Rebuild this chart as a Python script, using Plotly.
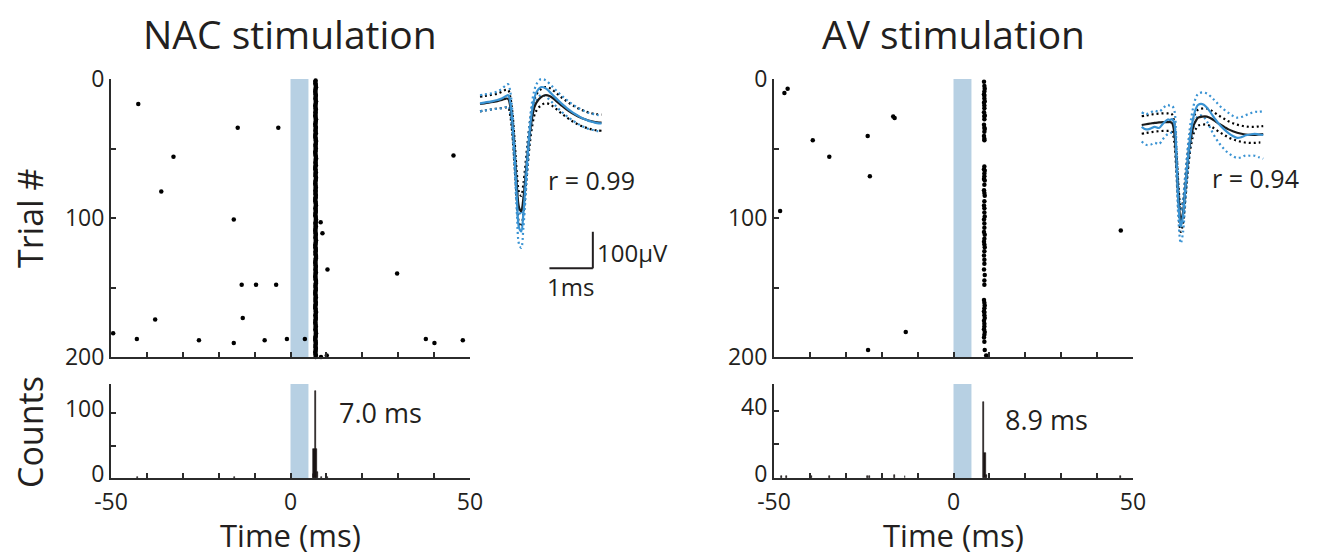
import plotly.graph_objects as go

# ---------------- data ----------------
tick_vals_x = [-50, -40, -30, -20, -10, 0, 10, 20, 30, 40, 50]
tick_text_x = ["-50", "", "", "", "", "0", "", "", "", "", "50"]
raster_ticks = [0, 50, 100, 150, 200]
raster_ticktext = ["0", "", "100", "", "200"]
stim_on, stim_off = 0, 5

# NAC: evoked spike latency (ms) for trials 1..200
nac_col_lat = [
    7.0, 6.9, 6.95, 7.0, 7.05, 7.1, 7.0, 6.95, 6.9, 6.95, 7.0, 7.05, 7.0, 6.95, 7.0, 7.1, 7.05, 7.0, 6.9, 6.95,
    7.0, 7.05, 7.0, 6.95, 7.0, 6.9, 6.95, 7.0, 7.1, 7.05, 7.0, 6.95, 6.9, 7.0, 7.05, 7.0, 6.95, 7.0, 7.05, 6.95,
    6.9, 6.95, 7.0, 7.05, 7.1, 7.05, 7.0, 6.95, 7.0, 7.05, 7.0, 6.95, 6.9, 6.95, 7.0, 7.05, 7.1, 7.05, 7.0, 6.95,
    7.0, 7.05, 6.95, 6.9, 6.95, 7.0, 7.05, 7.0, 6.95, 7.0, 7.1, 7.05, 7.0, 6.95, 6.9, 6.95, 7.0, 7.05, 7.0, 6.95,
    7.0, 6.95, 7.0, 7.05, 7.0, 6.95, 6.9, 6.95, 7.0, 7.05, 7.1, 7.0, 6.95, 7.0, 7.05, 7.0, 6.95, 6.9, 7.0, 7.05,
    7.1, 7.05, 7.0, 6.95, 7.0, 7.05, 7.0, 6.95, 6.9, 6.95, 7.0, 7.05, 7.0, 6.95, 7.0, 7.1, 7.05, 7.0, 6.95, 6.9,
    6.95, 7.0, 7.05, 7.0, 6.95, 7.0, 7.05, 7.1, 7.05, 7.0, 6.95, 6.9, 6.95, 7.0, 7.05, 7.0, 6.95, 7.0, 7.05, 7.0,
    6.95, 6.9, 6.95, 7.0, 7.05, 7.1, 7.05, 7.0, 6.95, 7.0, 7.05, 7.0, 6.95, 6.9, 6.95, 7.0, 7.05, 7.0, 6.95, 7.0,
    7.05, 7.0, 6.95, 6.9, 6.95, 7.0, 7.05, 7.1, 7.0, 6.95, 7.0, 7.05, 7.0, 6.95, 6.9, 6.95, 7.0, 7.05, 7.0, 6.95,
    7.0, 7.05, 7.1, 7.05, 7.0, 6.95, 6.9, 6.95, 7.0, 7.05, 7.0, 6.95, 7.0, 7.05, 7.0, 6.95, 6.9, 7.0, 7.05, 7.0,
]
nac_col_trials = list(range(1, 201))
# NAC: other (spontaneous) spikes
nac_spont_t = [-42.4, -14.7, -3.4, -32.6, 45.4, -36.0, -15.8, 8.4, 8.9, 10.3, 29.7, -13.6, -9.6, -4.0,
               -37.7, -13.3, -49.4, -42.8, -25.5, -15.8, -7.2, -1.0, 4.0, 37.7, 40.1, 48.0, 10.1, 8.5]
nac_spont_trial = [18, 35, 35, 56, 55, 81, 101, 103, 111, 137, 140, 148, 148, 148,
                   173, 172, 183, 187, 188, 190, 188, 187, 187, 187, 190, 188, 199, 200]
nac_hist_t = [-42.5, -15.5, 6.4, 6.8, 7.05, 7.4, 8.7, 10.2, 40.0]
nac_hist_n = [1, 1, 6, 45, 134, 10, 1, 1, 1]
nac_hist_w = [0.25, 0.25, 0.3, 0.9, 0.35, 0.3, 0.25, 0.25, 0.25]

# AV: evoked spikes
av_col_trials = [2, 5, 7, 9, 11, 12, 14, 16, 17, 19, 21, 24, 26, 27, 29, 33, 35, 36, 38, 41, 43, 44,
                 63, 65, 66, 68, 70, 72, 73, 76, 80, 82, 84, 88, 91, 93, 96, 99, 101, 104, 107, 110, 112,
                 115, 117, 119, 121, 124, 127, 130, 133, 137, 141, 145, 148,
                 159, 161, 163, 165, 167, 168, 170, 172, 174, 176, 178, 180, 182, 184, 186, 189, 195]
av_col_lat = [8.5, 8.6, 8.7, 8.6, 8.5, 8.6, 8.6, 8.7, 8.5, 8.6, 8.6, 8.5, 8.7, 8.6, 8.6, 8.5, 8.6, 8.7, 8.6, 8.5, 8.6, 8.6,
              8.6, 8.5, 8.7, 8.6, 8.6, 8.5, 8.7, 8.6, 8.5, 8.6, 8.7, 8.6, 8.5, 8.6, 8.6, 8.7, 8.5, 8.6, 8.6, 8.5, 8.7,
              8.6, 8.5, 8.6, 8.7, 8.6, 8.5, 8.6, 8.6, 8.5, 8.7, 8.6, 8.6,
              8.5, 8.6, 8.7, 8.6, 8.5, 8.6, 8.6, 8.7, 8.5, 8.6, 8.6, 8.5, 8.7, 8.6, 8.5, 8.6, 8.7]
av_spont_t = [-46.2, -47.1, -39.2, -34.6, -23.9, -23.3, -16.8, -16.4, -48.3, -13.3, -23.8, 46.6, 9.1]
av_spont_trial = [7, 10, 44, 56, 41, 70, 27, 28, 95, 182, 195, 109, 199]
av_hist_t = [-48.0, -46.5, -39.5, -34.5, -24.0, -23.3, -16.5, -13.5, 8.45, 8.8, 9.2, 46.5]
av_hist_n = [1, 1, 1, 1, 1, 1, 2, 1, 45, 15, 2, 1]
av_hist_w = [0.25, 0.25, 0.25, 0.25, 0.25, 0.25, 0.25, 0.25, 0.3, 0.5, 0.3, 0.25]

# waveforms (ms, uV): black = spontaneous, blue = evoked
wave_t = [0.0, 0.1, 0.2, 0.3, 0.4, 0.5, 0.6, 0.65, 0.7, 0.75, 0.8, 0.85, 0.9, 0.95, 1.0, 1.05, 1.1, 1.15,
          1.2, 1.25, 1.3, 1.4, 1.5, 1.6, 1.7, 1.8, 1.9, 2.0, 2.1, 2.2, 2.3, 2.4, 2.5, 2.6, 2.7, 2.8]
nac_blue = [0, 2, 4, 6, 9, 13, 20, 22, 0, -60, -150, -260, -340, -350, -300, -220, -140, -70,
            -20, 12, 30, 44, 42, 32, 20, 8, -3, -13, -22, -30, -37, -43, -48, -51, -54, -55]
nac_black = [-2, 0, 2, 4, 6, 9, 13, 12, -10, -60, -140, -230, -285, -295, -260, -200, -135, -80,
             -40, -12, 2, 16, 22, 20, 12, 2, -8, -17, -25, -32, -38, -43, -47, -50, -52, -53]
nac_blue_sd = [22, 22, 22, 22, 24, 26, 30, 30, 30, 32, 36, 40, 45, 45, 40, 35, 30, 26,
               24, 22, 22, 22, 22, 22, 22, 22, 22, 22, 22, 22, 22, 22, 22, 22, 22, 22]
nac_black_sd = [20, 20, 20, 20, 20, 22, 24, 24, 26, 30, 34, 38, 42, 42, 40, 36, 32, 28,
                24, 22, 22, 22, 22, 22, 22, 22, 22, 22, 22, 22, 22, 22, 22, 22, 22, 22]
av_blue = [-5, -12, -10, -5, -8, 5, 15, 14, 16, 5, -90, -220, -278, -250, -180, -110, -50, -5,
           25, 45, 55, 57, 48, 32, 15, 0, -12, -22, -30, -35, -33, -28, -26, -24, -26, -27]
av_black = [0, 2, 4, 6, 7, 8, 8, 8, 5, -20, -100, -200, -260, -240, -180, -115, -60, -25,
            0, 12, 20, 23, 23, 18, 10, 2, -5, -12, -17, -21, -24, -26, -27, -27, -26, -25]
av_blue_sd = [40, 42, 44, 44, 44, 42, 40, 38, 36, 36, 40, 45, 45, 45, 40, 35, 32, 30,
              30, 30, 30, 32, 38, 45, 50, 52, 54, 55, 55, 55, 55, 55, 58, 60, 62, 65]
av_black_sd = [24, 24, 24, 24, 24, 24, 24, 24, 24, 26, 28, 30, 32, 30, 28, 26, 24, 22,
               22, 22, 22, 22, 22, 22, 22, 22, 22, 22, 22, 22, 22, 22, 22, 22, 22, 22]

# ---------------- style ----------------
OFF = 8                      # page body margin
W, H = 1322 - OFF, 556 - OFF
FONT = "Open Sans"
TXT = "#231f20"
AX = "#2b2b2b"
SHADE = "#b7d0e3"
BLUE = "#3a93d3"


def px(x):
    return (x - OFF) / W


def py(y):
    return 1 - (y - OFF) / H


fig = go.Figure()

# rasters
dot = dict(color="black", size=4.5)
fig.add_trace(go.Scatter(x=nac_col_lat, y=nac_col_trials, mode="markers", xaxis="x", yaxis="y",
                         marker=dot, cliponaxis=False, showlegend=False))
fig.add_trace(go.Scatter(x=nac_spont_t, y=nac_spont_trial, mode="markers", xaxis="x", yaxis="y",
                         marker=dot, cliponaxis=False, showlegend=False))
fig.add_trace(go.Scatter(x=av_col_lat, y=av_col_trials, mode="markers", xaxis="x3", yaxis="y3",
                         marker=dot, cliponaxis=False, showlegend=False))
fig.add_trace(go.Scatter(x=av_spont_t, y=av_spont_trial, mode="markers", xaxis="x3", yaxis="y3",
                         marker=dot, cliponaxis=False, showlegend=False))
# histograms
fig.add_trace(go.Bar(x=nac_hist_t, y=nac_hist_n, width=nac_hist_w, xaxis="x2", yaxis="y2",
                     marker=dict(color="#1a1414", line=dict(color="#1a1414", width=0.6)), showlegend=False))
fig.add_trace(go.Bar(x=av_hist_t, y=av_hist_n, width=av_hist_w, xaxis="x4", yaxis="y4",
                     marker=dict(color="#1a1414", line=dict(color="#1a1414", width=0.6)), showlegend=False))


# waveforms
def add_wave(xa, ya, mean_k, sd_k, mean_b, sd_b):
    for mean, sd, col in ((mean_k, sd_k, "black"), (mean_b, sd_b, BLUE)):
        up = [m + s for m, s in zip(mean, sd)]
        lo = [m - s for m, s in zip(mean, sd)]
        for arr in (up, lo):
            fig.add_trace(go.Scatter(x=wave_t, y=arr, mode="lines", xaxis=xa, yaxis=ya,
                                     line=dict(color=col, width=2.2, dash="2px,3px", shape="spline"),
                                     showlegend=False))
    fig.add_trace(go.Scatter(x=wave_t, y=mean_k, mode="lines", xaxis=xa, yaxis=ya,
                             line=dict(color="#1a1a1a", width=2.2, shape="spline"), showlegend=False))
    fig.add_trace(go.Scatter(x=wave_t, y=mean_b, mode="lines", xaxis=xa, yaxis=ya,
                             line=dict(color=BLUE, width=2.2, shape="spline"), showlegend=False))


add_wave("x5", "y5", nac_black, nac_black_sd, nac_blue, nac_blue_sd)
add_wave("x6", "y6", av_black, av_black_sd, av_blue, av_blue_sd)

tickfont = dict(family=FONT, size=23, color=TXT)
common = dict(showgrid=False, zeroline=False, showline=True, linecolor=AX, linewidth=2,
              ticks="inside", ticklen=5, tickwidth=2, tickcolor=AX, tickfont=tickfont,
              automargin=False, fixedrange=True)

L0, L1 = px(111), px(470)
R0, R1 = px(774), px(1133)
RY = [py(357), py(79)]
HY = [py(478), py(384)]

layout = dict(
    width=W, height=H, margin=dict(l=0, r=0, t=0, b=0),
    paper_bgcolor="white", plot_bgcolor="white",
    bargap=0, barmode="overlay",
    xaxis=dict(domain=[L0, L1], anchor="y", range=[-50, 50], tickvals=tick_vals_x,
               ticktext=[""] * len(tick_vals_x), **common),
    yaxis=dict(domain=RY, anchor="x", range=[200, 0], tickvals=raster_ticks,
               ticktext=raster_ticktext, **common),
    xaxis2=dict(domain=[L0, L1], anchor="y2", range=[-50, 50], tickvals=tick_vals_x,
                ticktext=tick_text_x, ticklabelstandoff=2, **common),
    yaxis2=dict(domain=HY, anchor="x2", range=[0, 145], tickvals=[0, 50, 100],
                ticktext=["0", "", "100"], ticklabelshift=-4, **common),
    xaxis3=dict(domain=[R0, R1], anchor="y3", range=[-50, 50], tickvals=tick_vals_x,
                ticktext=[""] * len(tick_vals_x), **common),
    yaxis3=dict(domain=RY, anchor="x3", range=[200, 0], tickvals=raster_ticks,
                ticktext=raster_ticktext, **common),
    xaxis4=dict(domain=[R0, R1], anchor="y4", range=[-50, 50], tickvals=tick_vals_x,
                ticktext=tick_text_x, ticklabelstandoff=2, **common),
    yaxis4=dict(domain=HY, anchor="x4", range=[0, 56], tickvals=[0, 20, 40],
                ticktext=["0", "", "40"], ticklabelshift=-4, **common),
    # waveform insets: 43.4 px per ms, 0.366 px per uV
    xaxis5=dict(domain=[px(470), px(680)], anchor="y5", range=[-10 / 43.4, 200 / 43.4], visible=False),
    yaxis5=dict(domain=[py(300), py(70)], anchor="x5", range=[-196.7 / 0.366, 33.3 / 0.366], visible=False),
    xaxis6=dict(domain=[px(1132), px(1322)], anchor="y6", range=[-9.7 / 43.4, 180.3 / 43.4], visible=False),
    yaxis6=dict(domain=[py(300), py(70)], anchor="x6", range=[-175 / 0.366, 55 / 0.366], visible=False),
)
fig.update_layout(**layout)

shapes = []
for xr, yr in (("x", "y"), ("x2", "y2"), ("x3", "y3"), ("x4", "y4")):
    shapes.append(dict(type="rect", xref=xr, yref=yr + " domain", x0=stim_on, x1=stim_off, y0=0, y1=1,
                       fillcolor=SHADE, line=dict(width=0), layer="below"))
# scale bar (1 ms, 100 uV) in the NAC waveform inset
sb_x0, sb_y0 = 1.6, -451
shapes.append(dict(type="line", xref="x5", yref="y5", x0=sb_x0, x1=sb_x0 + 1, y0=sb_y0, y1=sb_y0,
                   line=dict(color=TXT, width=2)))
shapes.append(dict(type="line", xref="x5", yref="y5", x0=sb_x0 + 1, x1=sb_x0 + 1, y0=sb_y0, y1=sb_y0 + 100,
                   line=dict(color=TXT, width=2)))
fig.update_layout(shapes=shapes)


def ann(text, x, y, size, angle=0, xanchor="center"):
    return dict(text=text, x=px(x), y=py(y), xref="paper", yref="paper", showarrow=False,
                xanchor=xanchor, yanchor="middle", textangle=angle, borderpad=0,
                font=dict(family=FONT, size=size, color=TXT))


annotations = [
    ann("NAC stimulation", 290, 33, 39),
    ann("AV stimulation", 953, 33, 39),
    ann("Trial #", 30, 218, 34, angle=-90),
    ann("Counts", 30, 432, 34, angle=-90),
    ann("Time (ms)", 290, 535, 31),
    ann("Time (ms)", 953, 535, 31),
    ann("7.0 ms", 338, 412, 27, xanchor="left"),
    ann("8.9 ms", 1004, 419, 27, xanchor="left"),
    ann("r = 0.99", 547, 180, 25, xanchor="left"),
    ann("r = 0.94", 1211, 178, 25, xanchor="left"),
    ann("100µV", 596, 252, 24, xanchor="left"),
    ann("1ms", 546, 286, 24, xanchor="left"),
]
fig.update_layout(annotations=annotations)

fig.write_html("out.html")
